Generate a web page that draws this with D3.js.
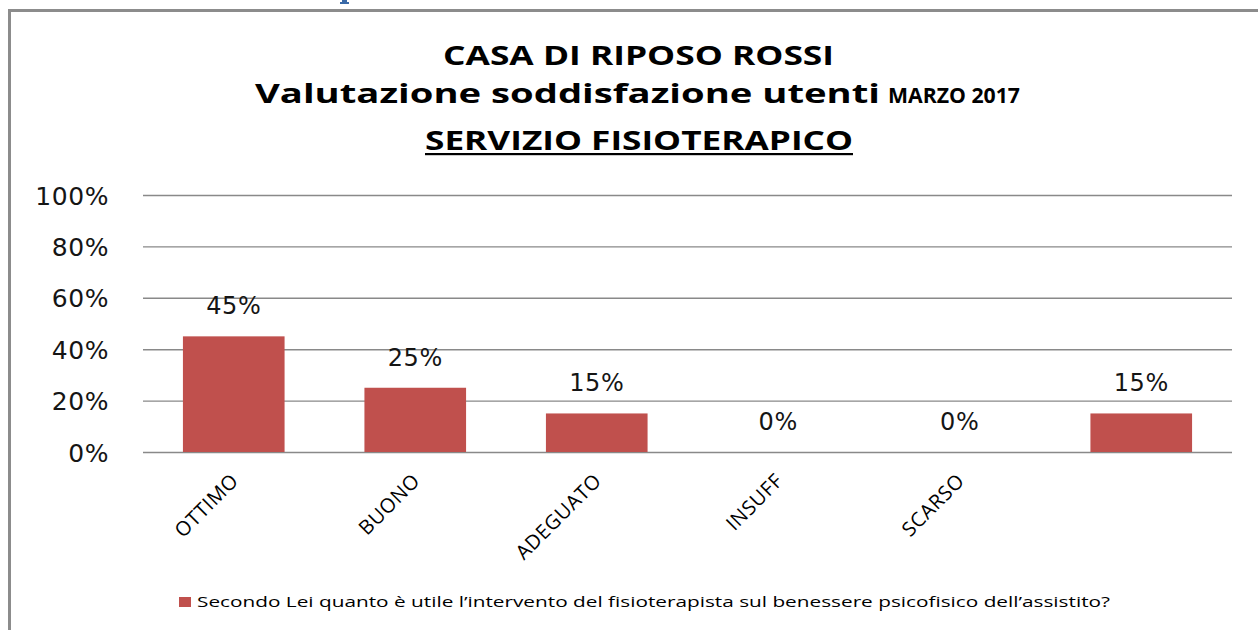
<!DOCTYPE html>
<html>
<head>
<meta charset="utf-8">
<script src="https://cdn.jsdelivr.net/npm/d3@7"></script>
<style>
    html, body {margin: 0; padding: 0; background: #fff;}
    svg {display: block;}
</style>
</head>
<body>
<svg id="chart1"></svg>
<script>
const categories = ["OTTIMO", "BUONO", "ADEGUATO", "INSUFF", "SCARSO", ""];
const values = [0.45, 0.25, 0.15, 0, 0, 0.15];
const yTicks = [0, 0.2, 0.4, 0.6, 0.8, 1];
const seriesName = "Secondo Lei quanto è utile l’intervento del fisioterapista sul benessere psicofisico  dell’assistito?";

const width = 1258;
const height = 630;
const margin = ({top: 195, right: 26, bottom: 178, left: 143});
const barColor = "#C0504D";
const gridColor = "#898989";

const svg = d3.select("#chart1")
    .attr("width", width)
    .attr("height", height);

const x = d3.scaleBand()
    .domain(categories.map((c, i) => i))
    .range([margin.left, width - margin.right])
    .paddingInner(0.44)
    .paddingOuter(0.22);

const y = d3.scaleLinear()
    .domain([0, 1])
    .range([height - margin.bottom, margin.top]);

// chart frame (only left and top edge visible in the screenshot)
svg.append("path")
    .attr("d", `M9.5,${height}V10.5H${width}`)
    .attr("fill", "none")
    .attr("stroke", "#8c8c8c")
    .attr("stroke-width", 3);

// stub of the blue heading that sits above the chart
svg.append("path")
    .attr("d", "M342,0H347V2H349V4H340V2H342Z")
    .attr("fill", "#3a6aa8");

// title
const title = svg.append("g")
    .attr("font-family", "Open Sans")
    .attr("font-weight", "bold")
    .attr("fill", "#000");

title.append("text")
    .attr("x", 443).attr("y", 65)
    .attr("font-size", 27)
    .attr("textLength", 391)
    .attr("lengthAdjust", "spacingAndGlyphs")
    .text("CASA DI RIPOSO ROSSI");

title.append("text")
    .attr("x", 255).attr("y", 103)
    .attr("font-size", 27)
    .attr("textLength", 625)
    .attr("lengthAdjust", "spacingAndGlyphs")
    .text("Valutazione soddisfazione  utenti");

title.append("text")
    .attr("x", 888).attr("y", 103)
    .attr("font-size", 21)
    .attr("textLength", 132)
    .attr("lengthAdjust", "spacingAndGlyphs")
    .text("MARZO 2017");

title.append("text")
    .attr("x", 425).attr("y", 150)
    .attr("font-size", 27)
    .attr("textLength", 428)
    .attr("lengthAdjust", "spacingAndGlyphs")
    .text("SERVIZIO FISIOTERAPICO");

title.append("rect")
    .attr("x", 425).attr("y", 153)
    .attr("width", 428).attr("height", 2.2);

// grid + y axis
const yAxis = g => g
    .attr("transform", `translate(${margin.left},0)`)
    .call(d3.axisLeft(y).tickValues(yTicks).tickFormat(d3.format(".0%")).tickSize(0).tickPadding(34))
    .call(g => g.select(".domain").remove())
    .call(g => g.selectAll(".tick line").clone()
        .attr("x2", width - margin.left - margin.right)
        .attr("stroke", gridColor)
        .attr("stroke-width", 1.4))
    .call(g => g.selectAll(".tick text")
        .attr("font-family", "DejaVu Sans")
        .attr("font-size", 25)
        .attr("letter-spacing", 0.6)
        .attr("fill", "#151515")
        .attr("dy", "0.36em"));

svg.append("g").call(yAxis);

// bars
svg.append("g")
    .attr("fill", barColor)
    .selectAll("rect")
    .data(values)
    .join("rect")
    .attr("x", (d, i) => x(i))
    .attr("y", d => y(d))
    .attr("width", x.bandwidth())
    .attr("height", d => y(0) - y(d));

// value labels
svg.append("g")
    .attr("font-family", "DejaVu Sans")
    .attr("font-size", 24)
    .attr("letter-spacing", 0.6)
    .attr("fill", "#151515")
    .attr("text-anchor", "middle")
    .selectAll("text")
    .data(values)
    .join("text")
    .attr("x", (d, i) => x(i) + x.bandwidth() / 2)
    .attr("y", d => y(d) - 22)
    .text(d => d3.format(".0%")(d));

// category labels, rotated like Excel does
const xAxis = g => g
    .attr("transform", `translate(0,${y(0)})`)
    .call(d3.axisBottom(x).tickFormat(i => categories[i]).tickSize(0).tickPadding(0))
    .call(g => g.select(".domain").remove())
    .call(g => g.selectAll(".tick text")
        .attr("font-family", "Open Sans")
        .attr("font-size", 20)
        .attr("letter-spacing", 0.6)
        .attr("fill", "#000")
        .attr("text-anchor", "end")
        .attr("y", 0)
        .attr("dy", "0.71em")
        .attr("transform", "translate(-4,20) rotate(-45)"));

svg.append("g").call(xAxis);

// legend
const legend = svg.append("g")
    .attr("transform", "translate(179,597)");

legend.append("rect")
    .attr("width", 12)
    .attr("height", 10)
    .attr("fill", barColor);

legend.append("text")
    .attr("x", 18)
    .attr("y", 10)
    .attr("font-family", "Open Sans")
    .attr("font-size", 15)
    .attr("fill", "#000")
    .attr("textLength", 913)
    .attr("lengthAdjust", "spacingAndGlyphs")
    .text(seriesName);
</script>
</body>
</html>
